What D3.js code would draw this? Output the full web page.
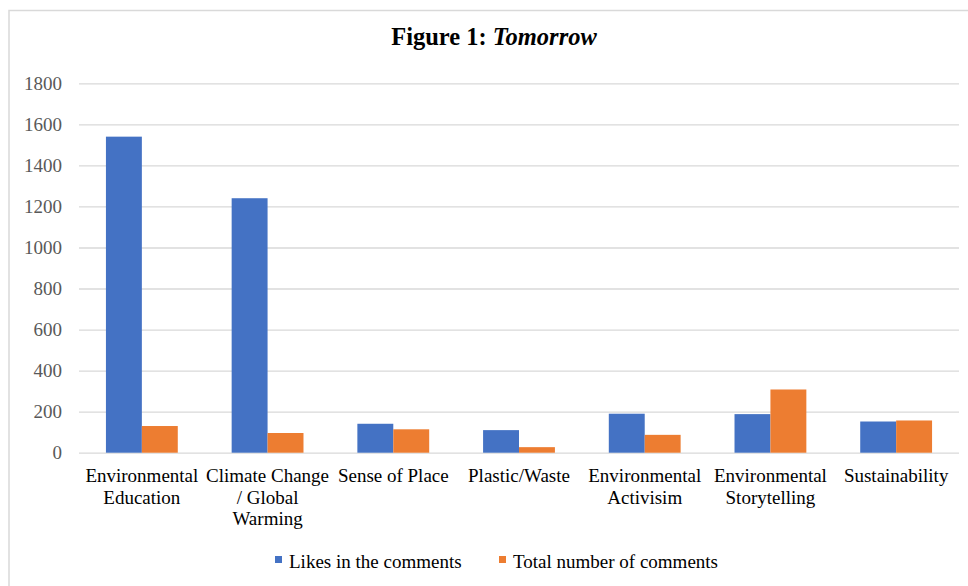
<!DOCTYPE html>
<html>
<head>
<meta charset="utf-8">
<script src="https://cdn.jsdelivr.net/npm/d3@7"></script>
<style>
  body { margin: 0; background: #fff; }
  text { font-family: "Liberation Serif", "Times New Roman", serif; }
</style>
</head>
<body>
<div id="wrapper"></div>
<script>
// data
const categories = ["Environmental Education", "Climate Change / Global Warming", "Sense of Place",
  "Plastic/Waste", "Environmental Activisim", "Environmental Storytelling", "Sustainability"]
const categoryLines = [["Environmental", "Education"], ["Climate Change", "/ Global", "Warming"], ["Sense of Place"],
  ["Plastic/Waste"], ["Environmental", "Activisim"], ["Environmental", "Storytelling"], ["Sustainability"]]
const seriesNames = ["Likes in the comments", "Total number of comments"]
const likes = [1540, 1240, 141, 110, 190, 188, 152]
const comments = [130, 96, 114, 27, 87, 308, 157]
const yTicks = [0, 200, 400, 600, 800, 1000, 1200, 1400, 1600, 1800]
const colors = ["#4472C4", "#ED7D31"]

function drawBar() {
  const width = 968
  const height = 586
  const plot = { left: 79, right: 959, top: 83.3, bottom: 452.7 }

  const svg = d3.select("#wrapper").append("svg")
    .attr("width", width)
    .attr("height", height)

  svg.append("rect")
    .attr("x", 9).attr("y", 10.5)
    .attr("width", width).attr("height", height)
    .attr("fill", "#fff")
    .attr("stroke", "#d9d9d9")
    .attr("stroke-width", 1.5)

  // title
  const title = svg.append("text")
    .attr("x", 494).attr("y", 45)
    .attr("text-anchor", "middle")
    .style("font-size", "24.5px")
    .style("font-weight", "bold")
  title.append("tspan").text("Figure 1: ")
  title.append("tspan").style("font-style", "italic").text("Tomorrow")

  const xScale = d3.scaleBand()
    .domain(categories)
    .range([plot.left, plot.right])

  const subScale = d3.scaleBand()
    .domain(seriesNames)
    .range([0, xScale.bandwidth()])
    .paddingOuter(0.75)

  const yScale = d3.scaleLinear()
    .domain([0, 1800])
    .range([plot.bottom, plot.top])

  // gridlines + y labels
  const yAxis = svg.append("g")
    .attr("transform", `translate(${plot.left}, 0)`)
    .call(d3.axisLeft(yScale).tickValues(yTicks).tickFormat(d3.format("d"))
      .tickSize(-(plot.right - plot.left)).tickPadding(17))
  yAxis.select(".domain").remove()
  yAxis.selectAll(".tick line").attr("stroke", "#d9d9d9").attr("stroke-width", 1.3)
  yAxis.selectAll(".tick text")
    .attr("fill", "#595959")
    .style("font-size", "19px")
    .style("font-family", "'Liberation Serif', 'Times New Roman', serif")

  const rows = categories.map((c, i) => ({ cat: c, vals: [likes[i], comments[i]] }))

  const groups = svg.append("g").selectAll("g")
    .data(rows)
    .join("g")
    .attr("transform", d => `translate(${xScale(d.cat)}, 0)`)

  groups.selectAll("rect")
    .data(d => d.vals.map((v, j) => ({ name: seriesNames[j], value: v, j })))
    .join("rect")
    .attr("x", d => subScale(d.name))
    .attr("y", d => yScale(d.value))
    .attr("width", subScale.bandwidth())
    .attr("height", d => yScale(0) - yScale(d.value))
    .attr("fill", d => colors[d.j])

  // x labels
  const xLabels = svg.append("g").selectAll("text")
    .data(categories)
    .join("text")
    .attr("x", d => xScale(d) + xScale.bandwidth() / 2)
    .attr("y", 482)
    .attr("text-anchor", "middle")
    .style("font-size", "19px")
    .attr("fill", "#000")
  xLabels.selectAll("tspan")
    .data((d, i) => categoryLines[i])
    .join("tspan")
    .attr("x", function () { return this.parentNode.getAttribute("x") })
    .attr("dy", (d, i) => i === 0 ? 0 : 21.5)
    .text(d => d)

  // legend
  const legendX = [275, 499]
  const legend = svg.append("g").selectAll("g")
    .data(seriesNames)
    .join("g")
    .attr("transform", (d, i) => `translate(${legendX[i]}, 568)`)
  legend.append("rect")
    .attr("x", 0).attr("y", -12)
    .attr("width", 7).attr("height", 7)
    .attr("fill", (d, i) => colors[i])
  legend.append("text")
    .attr("x", 14).attr("y", 0)
    .style("font-size", "19px")
    .text(d => d)
}

drawBar()
</script>
</body>
</html>
